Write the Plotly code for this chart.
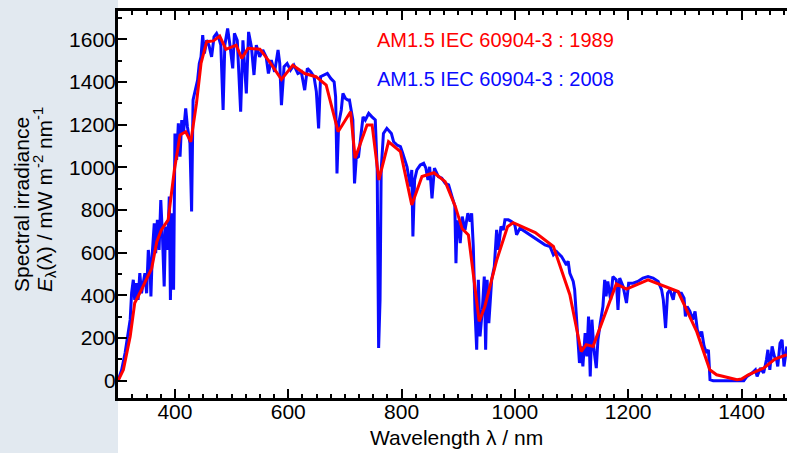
import plotly.graph_objects as go

# ---------------- data ----------------
# AM1.5 IEC 60904-3 : 1989  (coarse tabulated spectrum)
wl_1989 = [300, 309, 321, 329, 338, 347, 359, 368, 376, 388, 399, 409, 419, 428,
           438, 446, 456, 468, 479, 490, 508, 518, 529, 550, 567, 588, 608, 629,
           649, 667, 688, 710, 718, 739, 748, 760, 777, 798, 818, 836, 857, 877,
           895, 907, 918, 937, 947, 968, 987, 997, 1036, 1068, 1097, 1117, 1126,
           1138, 1159, 1179, 1197, 1235, 1288, 1321, 1344, 1356, 1392, 1400, 1412,
           1439, 1459, 1480]
irr_1989 = [2, 51, 207, 364, 411, 459, 527, 652, 707, 754, 988, 1152, 1167, 1120,
            1300, 1487, 1589, 1593, 1615, 1553, 1573, 1511, 1558, 1554, 1495, 1412,
            1479, 1440, 1425, 1386, 1167, 1261, 1043, 1199, 1199, 941, 1120, 1074,
            824, 957, 975, 933, 816, 712, 683, 278, 348, 566, 722, 741, 694, 629,
            403, 137, 169, 161, 309, 454, 429, 473, 418, 230, 51, 28, 5, 8, 28, 59,
            101, 122]

# AM1.5 IEC 60904-3 : 2008  (high-resolution spectrum)
wl_2008 = [300, 306, 312, 318, 321, 323.5, 326.5, 329, 332, 335, 338, 341, 344, 347,
           350, 353, 356, 357.6, 360, 363.5, 366, 369, 372, 375, 378, 381, 383.5,
           387, 390, 392, 395, 397.6, 400, 403, 406, 409, 412, 415, 419, 422, 426.5,
           429.4, 432, 436.5, 440, 443, 446, 449, 452, 456, 460, 464.7, 469, 473.5,
           477.7, 481, 485, 488, 493, 497, 502, 505, 510, 516, 520, 526, 530, 535,
           539.5, 543.6, 549.5, 555, 561, 565, 570, 576, 582, 585, 588, 592.6, 598,
           604, 610, 617, 623, 629, 633.7, 639.6, 645.5, 649.6, 653.6, 657, 663, 669,
           675, 681, 683.6, 686, 689, 693.6, 696.5, 701, 705, 708, 711, 714, 717,
           720, 724, 728.5, 732, 736, 742, 747.7, 753.6, 757, 759.5, 762, 764, 768,
           774, 782, 786, 792, 798, 802, 809.6, 815.4, 818, 820, 823, 827, 833, 839,
           843, 846.6, 849.6, 853.7, 858, 865, 871, 877, 883, 889, 894, 896, 898,
           900, 903.5, 907, 912, 917, 921, 923.7, 926.6, 929.6, 932.6, 935.5, 938.5,
           942.5, 946, 948.4, 951, 954, 959, 963.7, 967.8, 970.7, 975.5, 979.6,
           982.5, 988.4, 994, 1000, 1003, 1009, 1018, 1026.6, 1035.5, 1044, 1053,
           1062, 1068, 1073.6, 1082.5, 1091, 1094, 1097, 1103, 1105.5, 1108.5, 1111,
           1114, 1117, 1120, 1124, 1127, 1130, 1133, 1136, 1139.6, 1143.7, 1146.6,
           1150.7, 1155.4, 1158.5, 1161, 1164, 1169, 1173, 1179, 1182, 1185, 1191,
           1197, 1200.8, 1208.5, 1217, 1226, 1235, 1244, 1253, 1259, 1262, 1266,
           1269.5, 1273.5, 1279.5, 1282, 1288, 1291.4, 1294, 1298.6, 1301, 1304,
           1309, 1313.8, 1318, 1322, 1326.7, 1329.7, 1334, 1338.5, 1341.6, 1344.4,
           1350, 1380, 1404, 1409.7, 1418.6, 1424.5, 1427.5, 1433.4, 1439, 1444,
           1446.6, 1450, 1454, 1458, 1462, 1464, 1468, 1471.6, 1475, 1480]
irr_2008 = [5, 51, 130, 247, 286, 410, 473, 379, 457, 379, 504, 410, 457, 504,
            410, 613, 535, 395, 598, 738, 598, 754, 613, 847, 676, 442, 723,
            613, 863, 379, 785, 426, 1159, 1035, 1206, 1050, 1222, 1159, 1277, 1191, 1113,
            793, 1316, 1378, 1409, 1487, 1518, 1620, 1534, 1596, 1573, 1518, 1612, 1628,
            1604, 1573, 1269, 1573, 1651, 1575, 1464, 1628, 1596, 1261, 1596, 1347, 1635, 1565,
            1433, 1573, 1518, 1550, 1518, 1440, 1503, 1448, 1550, 1487, 1292, 1472, 1487,
            1456, 1479, 1440, 1448, 1362, 1464, 1448, 1425, 1355, 1183, 1425, 1433, 1440,
            1417, 1401, 1331, 972, 1206, 1269, 1347, 1323, 1316, 1316, 1269, 1222, 925,
            1042, 1050, 1159, 1237, 1222, 1253, 1237, 1222, 988, 153, 379, 988, 1159,
            1183, 1159, 1120, 1105, 1097, 1066, 1003, 910, 988, 676, 941, 988, 1011, 1019,
            996, 941, 1003, 855, 996, 957, 949, 925, 918, 863, 820, 551, 750,
            740, 645, 769, 707, 785, 746, 785, 629, 332, 145, 473, 208,
            332, 488, 145, 473, 270, 473, 535, 707, 613, 723, 707,
            754, 754, 746, 730, 684, 715, 699, 684, 668, 652, 637,
            629, 590, 605, 582, 543, 560, 504, 465, 426, 301, 192,
            83, 161, 67, 223, 114, 301, 20, 286, 145, 59, 192,
            270, 348, 473, 395, 465, 379, 488, 473, 332, 481, 442,
            364, 457, 457, 465, 481, 488, 481, 465, 426, 379, 247,
            410, 426, 379, 418, 418, 410, 410, 387, 301, 348,
            325, 286, 325, 239, 208, 231, 161, 130, 145, 5,
            0, 0, 0, 20, 36, 51, 20, 59, 36, 98,
            145, 51, 161, 114, 98, 67, 176, 192, 67, 161]

x_ticks = [400, 600, 800, 1000, 1200, 1400]
y_ticks = [0, 200, 400, 600, 800, 1000, 1200, 1400, 1600]

label_1989 = "AM1.5 IEC 60904-3 : 1989"
label_2008 = "AM1.5 IEC 60904-3 : 2008"
x_title = "Wavelength λ / nm"
y_title_1 = "Spectral irradiance"
y_title_2 = "<i>E</i><sub>λ</sub>(λ) / mW m<sup>-2</sup> nm<sup>-1</sup>"

# ---------------- figure ----------------
W, H = 787, 453
L, R, T, B = 118, 0, 11, 55
PW, PH = W - L - R, H - T - B
FONT = "Liberation Sans, Arial, Helvetica, sans-serif"


def px_x(p):
    return (p - L) / PW


def px_y(p):
    return (H - B - p) / PH


fig = go.Figure()
fig.add_trace(go.Scatter(x=wl_2008, y=irr_2008, mode="lines",
                         line=dict(color="#0a0aff", width=3), showlegend=False,
                         hoverinfo="skip"))
fig.add_trace(go.Scatter(x=wl_1989, y=irr_1989, mode="lines",
                         line=dict(color="#ff0000", width=3), showlegend=False,
                         hoverinfo="skip"))

axis_font = dict(family=FONT, size=21, color="black")

fig.update_layout(
    width=W, height=H,
    margin=dict(l=L, r=R, t=T, b=B, pad=0),
    paper_bgcolor="white", plot_bgcolor="white",
    font=dict(family=FONT, color="black"),
    xaxis=dict(range=[299.5, 1480.3], tickvals=x_ticks, ticks="inside", ticklen=9,
               tickwidth=2, tickcolor="black", showline=True, linewidth=3,
               linecolor="black", mirror="ticks", showgrid=False, zeroline=False,
               tickfont=axis_font, ticklabelstandoff=-7,
               minor=dict(dtick=25, tick0=0, ticks="inside", ticklen=4,
                          tickwidth=1.5, tickcolor="black", showgrid=False)),
    yaxis=dict(range=[-81, 1733], tickvals=y_ticks, ticks="inside", ticklen=9,
               tickwidth=2, tickcolor="black", showline=True, linewidth=3,
               linecolor="black", showgrid=False, zeroline=False,
               tickfont=axis_font, ticklabelstandoff=-5,
               minor=dict(dtick=100, tick0=0, ticks="inside", ticklen=4,
                          tickwidth=1.5, tickcolor="black", showgrid=False)),
    shapes=[
        dict(type="rect", xref="paper", yref="paper", layer="below",
             x0=px_x(0), x1=px_x(L), y0=px_y(H), y1=px_y(0),
             fillcolor="#e2e9f0", line=dict(width=0)),
    ],
    annotations=[
        dict(text=label_1989, xref="paper", yref="paper", x=px_x(375), y=px_y(40),
             xanchor="left", yanchor="middle", showarrow=False,
             font=dict(family=FONT, size=20, color="#ff0000")),
        dict(text=label_2008, xref="paper", yref="paper", x=px_x(375), y=px_y(79),
             xanchor="left", yanchor="middle", showarrow=False,
             font=dict(family=FONT, size=20, color="#0a0aff")),
        dict(text=x_title, xref="paper", yref="paper", x=px_x(456), y=px_y(437),
             xanchor="center", yanchor="middle", showarrow=False,
             font=dict(family=FONT, size=21, color="black")),
        dict(text=y_title_1, xref="paper", yref="paper", x=px_x(22), y=px_y(205),
             xanchor="center", yanchor="middle", showarrow=False, textangle=-90,
             font=dict(family=FONT, size=21, color="black")),
        dict(text=y_title_2, xref="paper", yref="paper", x=px_x(44), y=px_y(200),
             xanchor="center", yanchor="middle", showarrow=False, textangle=-90,
             font=dict(family=FONT, size=21, color="black")),
    ],
)

fig.write_html("out.html", config={"displayModeBar": False},
               post_script="document.body.style.margin='0';"
                           "document.body.style.overflow='hidden';")
